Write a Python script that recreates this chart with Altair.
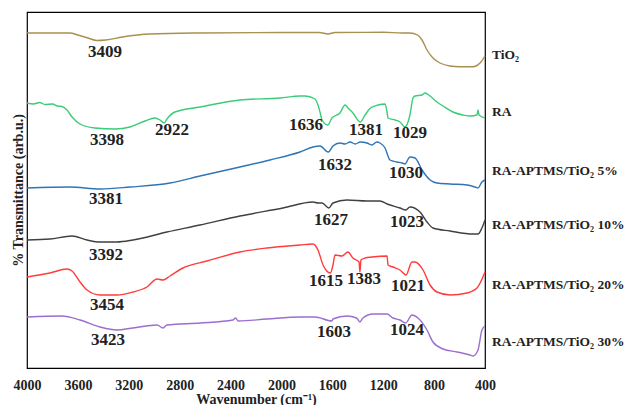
import altair as alt
import pandas as pd

# ---------------- data (wavenumber cm^-1, offset transmittance, arb. units) ----------------
tio2_wn = [4000, 3662, 3600, 3520, 3450, 3380, 3250, 3033, 2640, 2000, 1700, 1634, 1580, 1200, 1050,
           990, 930, 895, 856, 809, 754, 675, 600, 494, 439, 400]
tio2_t = [335, 335, 333, 330, 327.5, 328, 331, 334, 335, 335.5, 335.5, 334, 335.5, 335.7, 335,
          335, 333, 328, 318, 310, 305, 302, 301.3, 301.3, 305, 312]

ra_wn = [4000, 3950, 3900, 3859, 3800, 3760, 3725, 3686, 3646, 3583, 3466, 3308, 3190, 3072, 2994,
         2955, 2922, 2900, 2837, 2640, 2326, 2011, 1854, 1815, 1736, 1713, 1697, 1681, 1636, 1603,
         1540, 1500, 1477, 1438, 1381, 1343, 1300, 1241, 1186, 1170, 1162, 1107, 1068, 1029, 990,
         966, 950, 895, 872, 832, 777, 730, 652, 573, 518, 463, 455, 447, 400]
ra_t = [265, 264, 265.5, 263.5, 264, 262, 261.5, 258, 251, 244, 240, 239, 241, 247, 250,
        248, 245, 249, 256, 261, 268, 270, 272, 272, 269, 263, 256, 248, 243, 250,
        255, 263, 260, 255, 246, 253, 260, 263, 264, 256, 250, 248, 246, 241, 253,
        270, 272, 273, 275, 272, 266, 262, 256, 253, 252, 253, 258, 253, 250]

p5_wn = [4000, 3662, 3426, 3190, 2876, 2640, 2326, 2090, 1854, 1752, 1697, 1632, 1595, 1540, 1500,
         1461, 1420, 1380, 1328, 1290, 1250, 1225, 1186, 1147, 1092, 1052, 1030, 990, 950, 895,
         832, 777, 675, 541, 479, 455, 424, 400]
p5_t = [180, 181, 179, 181, 185, 192, 201, 208, 216, 221, 222, 216, 222, 225, 224,
        226, 224, 226, 225, 223, 226, 225, 220, 208, 206, 205, 204, 211, 210, 198,
        188, 185, 184, 183, 181, 180, 186, 188]

p10_wn = [4000, 3819, 3646, 3528, 3426, 3293, 3167, 2900, 2640, 2326, 1988, 1752, 1713, 1681, 1627,
          1595, 1485, 1328, 1225, 1170, 1068, 1023, 990, 911, 856, 809, 675, 494, 455, 424, 400]
p10_t = [128, 129, 132, 128, 126, 126, 128, 136, 143, 152, 160, 166, 165, 165, 160,
         165, 168, 167, 167, 164, 160, 158, 161, 156, 146, 140, 137, 134, 134, 140, 148]

p20_wn = [4000, 3819, 3686, 3646, 3583, 3528, 3426, 3293, 3167, 3057, 2978, 2931, 2876, 2774, 2585,
          2326, 2114, 1854, 1752, 1713, 1673, 1615, 1595, 1579, 1524, 1477, 1438, 1390, 1383, 1375,
          1343, 1288, 1170, 1162, 1123, 1068, 1021, 974, 950, 887, 832, 777, 675, 541, 463, 400]
p20_t = [91, 95, 99, 97, 86, 78, 73, 73, 76, 81, 89, 88, 92, 100, 107,
         116, 120, 123, 124, 118, 103, 95, 103, 113, 112, 116, 110, 106, 96, 108,
         110, 111, 112, 103, 101, 98, 93, 106, 106, 98, 83, 76, 73, 75, 80, 96]

p30_wn = [4000, 3725, 3583, 3426, 3293, 3167, 2978, 2931, 2900, 2640, 2381, 2360, 2340, 2114, 1854,
          1736, 1603, 1595, 1485, 1410, 1383, 1360, 1280, 1170, 1123, 1068, 1024, 974, 927, 856,
          809, 730, 620, 518, 494, 455, 424, 400]
p30_t = [51, 52, 48, 41, 38, 40, 43, 40, 43, 45, 48, 50, 47, 49, 51,
         51, 47, 49, 52, 50, 46, 50, 54, 54, 50, 48, 45, 53, 50, 38,
         26, 19, 16, 13, 12, 18, 38, 42]

series_names = ["TiO₂", "RA", "RA-APTMS/TiO₂ 5%", "RA-APTMS/TiO₂ 10%",
                "RA-APTMS/TiO₂ 20%", "RA-APTMS/TiO₂ 30%"]
series_colors = ["#A8904E", "#3CCB7A", "#2E75B6", "#404040", "#FF3B3B", "#9B6FCF"]
series_data = [(tio2_wn, tio2_t), (ra_wn, ra_t), (p5_wn, p5_t),
               (p10_wn, p10_t), (p20_wn, p20_t), (p30_wn, p30_t)]

# right-hand series labels: vertical position (arb. units)
label_t = [313, 256, 197, 143, 83, 26]

# peak annotations
peak_text = ["3409", "3398", "2922", "1636", "1381", "1029", "1632", "1030", "3381", "1627",
             "1023", "3392", "1615", "1383", "1021", "3454", "3423", "1603", "1024"]
peak_wn = [3387, 3371, 2860, 1807, 1335, 990, 1579, 1021, 3379, 1610,
           1013, 3379, 1650, 1351, 1005, 3371, 3363, 1587, 1013]
peak_t = [316, 228, 238, 243, 238, 235, 203, 195, 169, 148,
          146, 113, 87, 89, 82, 63, 28, 36, 38]

x_ticks = [4000, 3600, 3200, 2800, 2400, 2000, 1600, 1200, 800, 400]

# ---------------- build tables ----------------
rows = []
for name, (wn, t) in zip(series_names, series_data):
    for i, (w, v) in enumerate(zip(wn, t)):
        rows.append({"series": name, "wn": w, "t": v, "i": i})
lines_df = pd.DataFrame(rows)
labels_df = pd.DataFrame({"series": series_names, "wn": [400] * 6, "t": label_t})
peaks_df = pd.DataFrame({"label": peak_text, "wn": peak_wn, "t": peak_t})

FONT = "Liberation Serif"

x_scale = alt.Scale(domain=[400, 4000], reverse=True, nice=False, zero=False)
y_scale = alt.Scale(domain=[0, 356], nice=False, zero=False)
color_scale = alt.Scale(domain=series_names, range=series_colors)

x_axis = alt.Axis(values=x_ticks, format="d", title="Wavenumber (cm⁻¹)", ticks=False, domain=False,
                  grid=False, labelFont=FONT, labelFontWeight="bold", labelFontSize=14,
                  labelColor="#222222", labelPadding=10, labelFlush=False,
                  titleFont=FONT, titleFontWeight="bold", titleFontSize=14,
                  titleColor="#222222", titlePadding=0)
y_axis = alt.Axis(title="% Transmittance (arb.u.)", labels=False, ticks=False, domain=False,
                  grid=False, titleFont=FONT, titleFontWeight="bold", titleFontSize=14,
                  titleColor="#222222", titlePadding=2)

lines = alt.Chart(lines_df).mark_line(strokeWidth=1.4, interpolate="monotone").encode(
    x=alt.X("wn:Q", scale=x_scale, axis=x_axis),
    y=alt.Y("t:Q", scale=y_scale, axis=y_axis),
    color=alt.Color("series:N", scale=color_scale, legend=None),
    detail="series:N",
    order="i:Q",
)

series_labels = alt.Chart(labels_df).mark_text(
    align="left", baseline="middle", dx=7, font=FONT, fontWeight="bold",
    fontSize=13.5, color="#222222"
).encode(
    x=alt.X("wn:Q", scale=x_scale),
    y=alt.Y("t:Q", scale=y_scale),
    text="series:N",
)

peak_labels = alt.Chart(peaks_df).mark_text(
    align="center", baseline="middle", font=FONT, fontWeight="bold",
    fontSize=17, color="#222222"
).encode(
    x=alt.X("wn:Q", scale=x_scale),
    y=alt.Y("t:Q", scale=y_scale),
    text="label:N",
)

chart = alt.layer(lines, series_labels, peak_labels).properties(
    width=458, height=356,
    autosize=alt.AutoSizeParams(type="none"),
    padding={"left": 19, "top": 4, "right": 143, "bottom": 37},
    background="white",
).configure_view(stroke="#000000", strokeWidth=1.2)

chart.save("out.html", embed_options={"renderer": "svg", "actions": False})
